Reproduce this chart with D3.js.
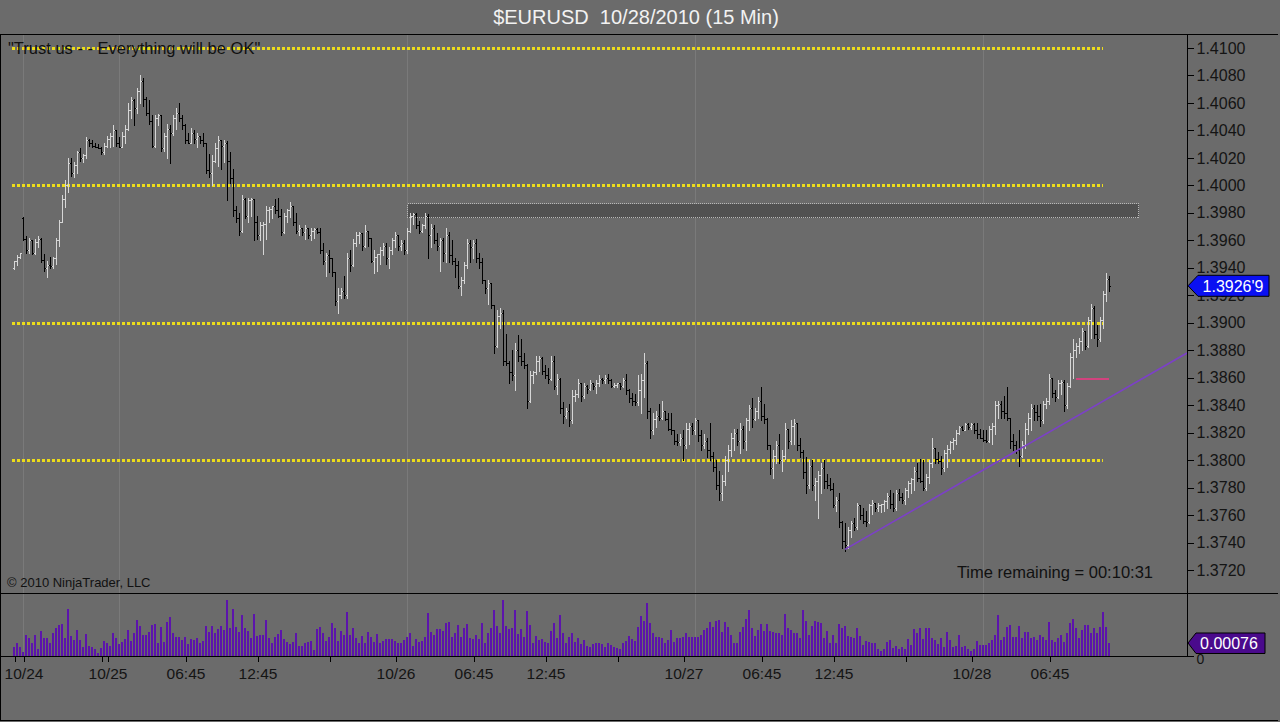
<!DOCTYPE html>
<html><head><meta charset="utf-8">
<script src="https://cdn.jsdelivr.net/npm/d3@7"></script>
<style>
html,body{margin:0;padding:0;background:#6b6b6b;}
svg{display:block;font-family:"Liberation Sans",Arial,sans-serif;}
text{white-space:pre;}
</style>
</head><body>
<svg id="chart" width="1280" height="722"></svg>
<script>
// ---------- DATA ----------
const opens=[1.3940,1.3945,1.3948,1.3976,1.3961,1.3953,1.3960,1.3951,1.3959,1.3961,
1.3946,1.3940,1.3942,1.3941,1.3947,1.3960,1.3973,1.3990,1.4000,1.4016,
1.4009,1.4015,1.4024,1.4020,1.4022,1.4033,1.4031,1.4029,1.4028,1.4027,
1.4024,1.4029,1.4034,1.4036,1.4040,1.4031,1.4028,1.4036,1.4041,1.4055,
1.4062,1.4056,1.4069,1.4076,1.4063,1.4053,1.4047,1.4029,1.4049,1.4051,
1.4027,1.4036,1.4041,1.4038,1.4049,1.4053,1.4049,1.4044,1.4033,1.4031,
1.4038,1.4034,1.4036,1.4033,1.4031,1.4011,1.4009,1.4018,1.4027,1.4033,
1.4029,1.4031,1.4018,1.4005,1.3982,1.3976,1.3967,1.3990,1.3978,1.3989,
1.3990,1.3973,1.3964,1.3971,1.3972,1.3982,1.3983,1.3985,1.3982,1.3978,
1.3966,1.3978,1.3982,1.3985,1.3973,1.3967,1.3969,1.3966,1.3969,1.3964,
1.3967,1.3968,1.3966,1.3953,1.3945,1.3949,1.3947,1.3937,1.3916,1.3920,
1.3923,1.3920,1.3947,1.3942,1.3958,1.3964,1.3965,1.3956,1.3967,1.3962,
1.3945,1.3948,1.3950,1.3953,1.3956,1.3947,1.3953,1.3960,1.3964,1.3956,
1.3958,1.3953,1.3967,1.3978,1.3979,1.3971,1.3967,1.3971,1.3978,1.3964,
1.3969,1.3960,1.3956,1.3960,1.3951,1.3964,1.3949,1.3945,1.3942,1.3927,
1.3931,1.3942,1.3958,1.3955,1.3958,1.3947,1.3944,1.3931,1.3925,1.3929,
1.3913,1.3883,1.3905,1.3907,1.3872,1.3871,1.3864,1.3862,1.3880,1.3876,
1.3872,1.3869,1.3843,1.3862,1.3864,1.3872,1.3874,1.3865,1.3862,1.3859,
1.3872,1.3854,1.3859,1.3838,1.3832,1.3836,1.3829,1.3847,1.3848,1.3856,
1.3847,1.3854,1.3852,1.3856,1.3854,1.3856,1.3859,1.3858,1.3860,1.3858,
1.3854,1.3855,1.3856,1.3854,1.3858,1.3851,1.3845,1.3843,1.3842,1.3851,
1.3858,1.3871,1.3836,1.3822,1.3830,1.3832,1.3831,1.3836,1.3830,1.3823,
1.3822,1.3814,1.3813,1.3816,1.3811,1.3823,1.3825,1.3822,1.3829,1.3818,
1.3811,1.3814,1.3807,1.3803,1.3795,1.3782,1.3776,1.3785,1.3800,1.3807,
1.3816,1.3820,1.3814,1.3823,1.3814,1.3829,1.3838,1.3830,1.3836,1.3843,
1.3832,1.3830,1.3811,1.3794,1.3803,1.3811,1.3800,1.3803,1.3823,1.3814,
1.3825,1.3827,1.3811,1.3806,1.3791,1.3782,1.3796,1.3782,1.3785,1.3789,
1.3794,1.3785,1.3782,1.3779,1.3767,1.3771,1.3755,1.3741,1.3738,1.3749,
1.3754,1.3751,1.3767,1.3760,1.3756,1.3755,1.3767,1.3769,1.3765,1.3767,
1.3768,1.3770,1.3774,1.3768,1.3765,1.3776,1.3773,1.3771,1.3778,1.3783,
1.3786,1.3792,1.3787,1.3785,1.3780,1.3788,1.3798,1.3809,1.3801,1.3799,
1.3794,1.3805,1.3808,1.3813,1.3815,1.3820,1.3824,1.3822,1.3826,1.3824,
1.3826,1.3822,1.3819,1.3816,1.3815,1.3814,1.3823,1.3825,1.3840,1.3841,
1.3836,1.3834,1.3831,1.3814,1.3811,1.3807,1.3803,1.3811,1.3823,1.3831,
1.3838,1.3835,1.3832,1.3829,1.3841,1.3843,1.3860,1.3849,1.3846,1.3856,
1.3857,1.3840,1.3854,1.3875,1.3880,1.3883,1.3887,1.3894,1.3883,1.3902,
1.3911,1.3892,1.3888,1.3902,1.3921,1.3932];

const highs=[1.3945,1.3949,1.3951,1.3977,1.3963,1.3962,1.3960,1.3961,1.3963,1.3962,
1.3950,1.3945,1.3948,1.3948,1.3962,1.3975,1.3993,1.4004,1.4020,1.4020,
1.4017,1.4025,1.4027,1.4023,1.4035,1.4034,1.4033,1.4031,1.4030,1.4028,
1.4031,1.4036,1.4038,1.4044,1.4040,1.4035,1.4039,1.4044,1.4060,1.4064,
1.4063,1.4071,1.4080,1.4078,1.4064,1.4062,1.4051,1.4051,1.4052,1.4051,
1.4038,1.4045,1.4044,1.4051,1.4056,1.4060,1.4051,1.4045,1.4038,1.4042,
1.4040,1.4038,1.4036,1.4038,1.4031,1.4023,1.4022,1.4031,1.4036,1.4033,
1.4033,1.4032,1.4024,1.4012,1.3985,1.3980,1.3993,1.3991,1.3991,1.3991,
1.3990,1.3978,1.3973,1.3973,1.3985,1.3984,1.3985,1.3990,1.3991,1.3983,
1.3980,1.3983,1.3988,1.3985,1.3980,1.3971,1.3969,1.3971,1.3969,1.3969,
1.3969,1.3969,1.3969,1.3958,1.3951,1.3953,1.3947,1.3937,1.3925,1.3925,
1.3934,1.3951,1.3953,1.3961,1.3966,1.3966,1.3965,1.3971,1.3967,1.3962,
1.3953,1.3950,1.3955,1.3958,1.3958,1.3955,1.3962,1.3966,1.3964,1.3960,
1.3960,1.3969,1.3980,1.3980,1.3980,1.3974,1.3972,1.3980,1.3979,1.3972,
1.3971,1.3965,1.3962,1.3962,1.3969,1.3966,1.3960,1.3947,1.3945,1.3933,
1.3944,1.3961,1.3960,1.3960,1.3961,1.3951,1.3947,1.3931,1.3931,1.3929,
1.3913,1.3909,1.3911,1.3909,1.3892,1.3872,1.3880,1.3885,1.3891,1.3888,
1.3878,1.3870,1.3865,1.3865,1.3876,1.3876,1.3875,1.3869,1.3867,1.3876,
1.3876,1.3863,1.3860,1.3842,1.3838,1.3841,1.3851,1.3851,1.3859,1.3856,
1.3856,1.3855,1.3858,1.3856,1.3858,1.3862,1.3860,1.3862,1.3863,1.3859,
1.3856,1.3856,1.3856,1.3860,1.3863,1.3852,1.3849,1.3848,1.3862,1.3863,
1.3878,1.3872,1.3838,1.3834,1.3836,1.3841,1.3843,1.3836,1.3834,1.3834,
1.3822,1.3819,1.3819,1.3822,1.3827,1.3827,1.3827,1.3831,1.3829,1.3822,
1.3819,1.3816,1.3827,1.3806,1.3800,1.3792,1.3789,1.3803,1.3811,1.3820,
1.3823,1.3823,1.3827,1.3825,1.3831,1.3840,1.3845,1.3838,1.3846,1.3853,
1.3841,1.3831,1.3811,1.3807,1.3814,1.3819,1.3807,1.3827,1.3823,1.3829,
1.3830,1.3827,1.3816,1.3807,1.3802,1.3800,1.3800,1.3787,1.3792,1.3798,
1.3800,1.3790,1.3787,1.3783,1.3773,1.3776,1.3756,1.3754,1.3751,1.3756,
1.3758,1.3769,1.3767,1.3765,1.3763,1.3768,1.3771,1.3769,1.3769,1.3768,
1.3771,1.3776,1.3778,1.3776,1.3778,1.3779,1.3776,1.3780,1.3785,1.3787,
1.3795,1.3798,1.3801,1.3800,1.3790,1.3800,1.3816,1.3809,1.3806,1.3803,
1.3807,1.3811,1.3814,1.3816,1.3822,1.3825,1.3825,1.3827,1.3827,1.3827,
1.3827,1.3827,1.3823,1.3822,1.3822,1.3825,1.3827,1.3843,1.3843,1.3843,
1.3847,1.3853,1.3831,1.3819,1.3814,1.3822,1.3814,1.3827,1.3834,1.3841,
1.3840,1.3840,1.3841,1.3843,1.3845,1.3863,1.3860,1.3851,1.3858,1.3858,
1.3858,1.3856,1.3878,1.3888,1.3885,1.3889,1.3896,1.3894,1.3904,1.3914,
1.3912,1.3898,1.3904,1.3923,1.3936,1.3934];

const lows=[1.3939,1.3942,1.3947,1.3960,1.3951,1.3951,1.3950,1.3950,1.3955,1.3944,
1.3938,1.3933,1.3940,1.3940,1.3943,1.3956,1.3973,1.3984,1.3995,1.4007,
1.4006,1.4009,1.4018,1.4017,1.4020,1.4029,1.4028,1.4028,1.4027,1.4023,
1.4023,1.4028,1.4028,1.4029,1.4029,1.4028,1.4028,1.4031,1.4040,1.4049,
1.4044,1.4053,1.4060,1.4058,1.4051,1.4045,1.4028,1.4028,1.4044,1.4025,
1.4025,1.4020,1.4016,1.4037,1.4041,1.4047,1.4041,1.4031,1.4031,1.4031,
1.4031,1.4028,1.4031,1.4029,1.4009,1.4006,1.4000,1.4017,1.4014,1.4012,
1.4017,1.3989,1.4002,1.3978,1.3973,1.3964,1.3966,1.3976,1.3973,1.3978,
1.3960,1.3961,1.3960,1.3950,1.3961,1.3973,1.3976,1.3980,1.3977,1.3964,
1.3965,1.3973,1.3977,1.3971,1.3965,1.3964,1.3964,1.3961,1.3962,1.3960,
1.3962,1.3965,1.3951,1.3943,1.3934,1.3937,1.3934,1.3913,1.3907,1.3918,
1.3918,1.3918,1.3938,1.3941,1.3956,1.3958,1.3953,1.3955,1.3956,1.3944,
1.3936,1.3938,1.3943,1.3949,1.3943,1.3940,1.3950,1.3955,1.3953,1.3953,
1.3950,1.3951,1.3966,1.3972,1.3969,1.3965,1.3966,1.3969,1.3947,1.3955,
1.3958,1.3953,1.3938,1.3945,1.3944,1.3944,1.3943,1.3933,1.3925,1.3920,
1.3929,1.3940,1.3944,1.3947,1.3944,1.3940,1.3929,1.3922,1.3914,1.3911,
1.3878,1.3882,1.3896,1.3869,1.3869,1.3856,1.3858,1.3851,1.3872,1.3869,
1.3867,1.3838,1.3842,1.3856,1.3863,1.3865,1.3863,1.3860,1.3856,1.3858,
1.3852,1.3848,1.3834,1.3827,1.3831,1.3825,1.3827,1.3843,1.3846,1.3843,
1.3845,1.3849,1.3851,1.3852,1.3849,1.3854,1.3856,1.3856,1.3856,1.3853,
1.3853,1.3853,1.3852,1.3853,1.3848,1.3842,1.3840,1.3840,1.3840,1.3834,
1.3846,1.3831,1.3816,1.3819,1.3824,1.3829,1.3830,1.3829,1.3822,1.3819,
1.3812,1.3811,1.3811,1.3800,1.3809,1.3812,1.3819,1.3819,1.3814,1.3807,
1.3809,1.3802,1.3800,1.3792,1.3779,1.3771,1.3771,1.3782,1.3792,1.3803,
1.3807,1.3811,1.3805,1.3809,1.3807,1.3822,1.3824,1.3829,1.3831,1.3829,
1.3827,1.3808,1.3790,1.3787,1.3798,1.3798,1.3792,1.3801,1.3809,1.3812,
1.3812,1.3807,1.3802,1.3787,1.3776,1.3780,1.3778,1.3771,1.3758,1.3776,
1.3780,1.3780,1.3778,1.3766,1.3763,1.3751,1.3736,1.3734,1.3736,1.3744,
1.3749,1.3750,1.3757,1.3754,1.3752,1.3754,1.3761,1.3763,1.3763,1.3762,
1.3763,1.3765,1.3765,1.3763,1.3764,1.3771,1.3769,1.3768,1.3773,1.3776,
1.3778,1.3785,1.3784,1.3778,1.3778,1.3783,1.3795,1.3798,1.3798,1.3790,
1.3792,1.3795,1.3805,1.3808,1.3812,1.3819,1.3822,1.3822,1.3823,1.3823,
1.3820,1.3816,1.3816,1.3814,1.3813,1.3813,1.3812,1.3819,1.3831,1.3831,
1.3831,1.3829,1.3809,1.3807,1.3805,1.3796,1.3802,1.3809,1.3819,1.3822,
1.3829,1.3829,1.3825,1.3827,1.3838,1.3841,1.3846,1.3843,1.3845,1.3848,
1.3836,1.3838,1.3853,1.3860,1.3875,1.3878,1.3880,1.3881,1.3882,1.3889,
1.3889,1.3883,1.3887,1.3896,1.3916,1.3923];

const closes=[1.3945,1.3948,1.3951,1.3961,1.3953,1.3960,1.3951,1.3959,1.3961,1.3946,
1.3940,1.3942,1.3941,1.3947,1.3960,1.3973,1.3990,1.4000,1.4016,1.4009,
1.4015,1.4024,1.4020,1.4022,1.4033,1.4031,1.4029,1.4028,1.4027,1.4024,
1.4029,1.4034,1.4036,1.4040,1.4031,1.4028,1.4036,1.4041,1.4055,1.4062,
1.4056,1.4069,1.4076,1.4063,1.4053,1.4047,1.4029,1.4049,1.4051,1.4027,
1.4036,1.4041,1.4038,1.4049,1.4053,1.4049,1.4044,1.4033,1.4031,1.4038,
1.4034,1.4036,1.4033,1.4031,1.4011,1.4009,1.4018,1.4027,1.4033,1.4029,
1.4031,1.4018,1.4005,1.3982,1.3976,1.3967,1.3990,1.3978,1.3989,1.3990,
1.3973,1.3964,1.3971,1.3972,1.3982,1.3983,1.3985,1.3982,1.3978,1.3966,
1.3978,1.3982,1.3985,1.3973,1.3967,1.3969,1.3966,1.3969,1.3964,1.3967,
1.3968,1.3966,1.3953,1.3945,1.3949,1.3947,1.3937,1.3916,1.3920,1.3923,
1.3920,1.3947,1.3942,1.3958,1.3964,1.3965,1.3956,1.3967,1.3962,1.3945,
1.3948,1.3950,1.3953,1.3956,1.3947,1.3953,1.3960,1.3964,1.3956,1.3958,
1.3953,1.3967,1.3978,1.3979,1.3971,1.3967,1.3971,1.3978,1.3964,1.3969,
1.3960,1.3956,1.3960,1.3951,1.3964,1.3949,1.3945,1.3942,1.3927,1.3931,
1.3942,1.3958,1.3955,1.3958,1.3947,1.3944,1.3931,1.3925,1.3929,1.3913,
1.3883,1.3905,1.3907,1.3872,1.3871,1.3864,1.3862,1.3880,1.3876,1.3872,
1.3869,1.3843,1.3862,1.3864,1.3872,1.3874,1.3865,1.3862,1.3859,1.3872,
1.3854,1.3859,1.3838,1.3832,1.3836,1.3829,1.3847,1.3848,1.3856,1.3847,
1.3854,1.3852,1.3856,1.3854,1.3856,1.3859,1.3858,1.3860,1.3858,1.3854,
1.3855,1.3856,1.3854,1.3858,1.3851,1.3845,1.3843,1.3842,1.3851,1.3858,
1.3871,1.3836,1.3822,1.3830,1.3832,1.3831,1.3836,1.3830,1.3823,1.3822,
1.3814,1.3813,1.3816,1.3811,1.3823,1.3825,1.3822,1.3829,1.3818,1.3811,
1.3814,1.3807,1.3803,1.3795,1.3782,1.3776,1.3785,1.3800,1.3807,1.3816,
1.3820,1.3814,1.3823,1.3814,1.3829,1.3838,1.3830,1.3836,1.3843,1.3832,
1.3830,1.3811,1.3794,1.3803,1.3811,1.3800,1.3803,1.3823,1.3814,1.3825,
1.3827,1.3811,1.3806,1.3791,1.3782,1.3796,1.3782,1.3785,1.3789,1.3794,
1.3785,1.3782,1.3779,1.3767,1.3771,1.3755,1.3741,1.3738,1.3749,1.3754,
1.3751,1.3767,1.3760,1.3756,1.3755,1.3767,1.3769,1.3765,1.3767,1.3768,
1.3770,1.3774,1.3768,1.3765,1.3776,1.3773,1.3771,1.3778,1.3783,1.3786,
1.3792,1.3787,1.3785,1.3780,1.3788,1.3798,1.3809,1.3801,1.3799,1.3794,
1.3805,1.3808,1.3813,1.3815,1.3820,1.3824,1.3822,1.3826,1.3824,1.3826,
1.3822,1.3819,1.3816,1.3815,1.3814,1.3823,1.3825,1.3840,1.3841,1.3836,
1.3834,1.3831,1.3814,1.3811,1.3807,1.3803,1.3811,1.3823,1.3831,1.3838,
1.3835,1.3832,1.3829,1.3841,1.3843,1.3860,1.3849,1.3846,1.3856,1.3857,
1.3840,1.3854,1.3875,1.3880,1.3883,1.3887,1.3894,1.3883,1.3902,1.3911,
1.3892,1.3888,1.3902,1.3921,1.3932,1.39269];

// lower panel indicator, in points (1 point = 0.00001)
const rangePoints=[51,74,51,25,123,103,74,123,39,148,
103,103,74,133,162,181,187,103,273,117,
94,152,94,51,129,59,51,39,20,45,
88,74,59,133,103,70,84,98,152,88,
133,211,176,123,123,142,181,187,78,172,
84,199,226,137,113,109,94,109,70,98,
94,103,78,88,177,142,176,137,156,176,
152,328,162,273,172,142,240,162,146,107,
246,117,121,121,211,103,78,109,129,152,
98,84,68,84,137,59,59,74,84,88,
35,156,172,133,90,113,195,162,90,148,
123,259,123,162,103,74,117,78,142,109,
82,129,74,90,101,99,98,86,78,
74,94,113,133,59,98,84,90,113,254,
142,123,156,156,148,191,197,109,133,181,
113,162,187,103,98,123,98,195,74,137,
162,269,176,133,328,176,156,162,269,127,
156,113,263,181,74,117,94,99,80,74,
148,195,107,240,133,78,113,133,84,107,
68,94,59,55,70,78,78,68,51,78,
64,51,45,41,74,90,119,98,90,172,
234,207,312,191,137,109,109,103,74,94,
152,84,103,103,113,137,113,109,113,113,
123,152,162,197,172,207,211,142,201,172,
123,78,74,142,168,215,269,162,117,152,
185,148,185,148,142,137,133,
123,
246,162,152,137,137,103,269,207,123,176,
207,201,195,103,148,78,123,78,187,162,
176,117,113,103,162,117,64,90,84,78,
74,39,31,39,84,94,45,59,39,55,
39,98,64,156,137,162,98,166,162,103,
94,70,103,55,142,94,55,59,123,55,
59,39,31,39,90,64,64,64,74,94,
123,240,94,113,168,181,113,113,176,103,
142,142,103,109,94,123,113,94,201,94,
84,103,123,84,133,191,215,162,103,152,
181,181,133,162,133,172,259,172,76];

const priceTicks=[1.3720,1.3740,1.3760,1.3780,1.3800,1.3820,1.3840,1.3860,1.3880,1.3900,
1.3920,1.3940,1.3960,1.3980,1.4000,1.4020,1.4040,1.4060,1.4080,1.4100];
const timeTickIndex=[0,3,29,31,57,81,105,127,153,177,201,223,249,273,297,319,345];
const timeTickLabels=["","10/24","","10/25","06:45","12:45","","10/26","06:45","12:45","","10/27","06:45","12:45","","10/28","06:45"];
const sessionGridIndex=[3,35,131,227,323];
const levelPrices=[1.4100,1.4000,1.3900,1.3800];
const levelSpan=[-0.7,363];
const zonePrices=[1.3977,1.3987];
const zoneSpan=[131,374.7];
const trendIndex=[277,336];
const trendPrices=[1.3735,1.3809];
const markIndex=[354,365];
const markPrice=1.3859;
const title="$EURUSD\u00A0\u00A010/28/2010 (15 Min)";
const note="\"Trust us - - Everything will be OK\"";
const copyright="\u00A9 2010 NinjaTrader, LLC";
const timer="Time remaining = 00:10:31";
const lastPriceLabel="1.3926'9";

// ---------- LAYOUT ----------
const BG="#6b6b6b";
const axisX=1187, panelTop=34, divider=593, volBottom=656, frameBottom=720, frameRight=1278;
const svg=d3.select("#chart");
svg.append("rect").attr("width",1280).attr("height",722).attr("fill",BG);

const n=closes.length;
const x=d3.scaleLinear().domain([0,n-1]).range([14,1109]);
const y=d3.scaleLinear().domain([1.372,1.41]).range([570,48]);
const yv=d3.scaleLinear().domain([0,368]).range([volBottom,divider]);

const defs=svg.append("defs");
defs.append("clipPath").attr("id","mainClip").append("rect")
  .attr("x",1).attr("y",panelTop+1).attr("width",axisX-1).attr("height",divider-panelTop-1);
defs.append("clipPath").attr("id","volClip").append("rect")
  .attr("x",1).attr("y",divider+1).attr("width",axisX-1).attr("height",volBottom-divider-1);

// session grid lines
svg.append("g").selectAll("line").data(sessionGridIndex).join("line")
  .attr("x1",d=>Math.round(x(d))+0.5).attr("x2",d=>Math.round(x(d))+0.5)
  .attr("y1",panelTop+1).attr("y2",volBottom)
  .attr("stroke","#7a7a7a").attr("stroke-width",1).attr("shape-rendering","crispEdges");

const main=svg.append("g").attr("clip-path","url(#mainClip)");

// zone rectangle
main.append("rect")
  .attr("x",Math.round(x(zoneSpan[0]))+0.5)
  .attr("y",Math.round(y(zonePrices[1]))+0.5)
  .attr("width",Math.round(x(zoneSpan[1])-x(zoneSpan[0])))
  .attr("height",Math.round(y(zonePrices[0])-y(zonePrices[1])))
  .attr("fill","#515151").attr("stroke","#b8b8b8").attr("stroke-width",1)
  .attr("stroke-dasharray","1,1").attr("shape-rendering","crispEdges");

// yellow dotted levels
main.append("g").selectAll("line").data(levelPrices).join("line")
  .attr("x1",x(levelSpan[0])).attr("x2",x(levelSpan[1]))
  .attr("y1",d=>Math.round(y(d))).attr("y2",d=>Math.round(y(d)))
  .attr("stroke","#ecdc1a").attr("stroke-width",3).attr("stroke-dasharray","3,2")
  .attr("shape-rendering","crispEdges");

// OHLC bars
const bars=main.append("g").attr("shape-rendering","crispEdges").attr("fill","none");
d3.range(n).forEach(i=>{
  const cx=Math.round(x(i))+0.5;
  const up=closes[i]>=opens[i];
  const col=up?"#d6d6d6":"#000000";
  const yh=Math.round(y(highs[i])), yl=Math.round(y(lows[i]));
  const yo=Math.round(y(opens[i]))+0.5, yc=Math.round(y(closes[i]))+0.5;
  bars.append("path")
    .attr("d",`M${cx},${yh}V${Math.max(yl,yh+1)+1}M${cx-1.5},${yo}H${cx}M${cx},${yc}H${cx+1.5}`)
    .attr("stroke",col).attr("stroke-width",1);
});

// trend line
const slope=(trendPrices[1]-trendPrices[0])/(trendIndex[1]-trendIndex[0]);
const endIdx=x.invert(axisX);
main.append("line")
  .attr("x1",x(trendIndex[0])).attr("y1",y(trendPrices[0]))
  .attr("x2",x(endIdx)).attr("y2",y(trendPrices[0]+slope*(endIdx-trendIndex[0])))
  .attr("stroke","#7c40c8").attr("stroke-width",1.6);

// pink mark
main.append("line")
  .attr("x1",x(markIndex[0])).attr("x2",x(markIndex[1]))
  .attr("y1",Math.round(y(markPrice))).attr("y2",Math.round(y(markPrice)))
  .attr("stroke","#d2437e").attr("stroke-width",2).attr("shape-rendering","crispEdges");

// lower panel bars
svg.append("g").attr("clip-path","url(#volClip)").selectAll("rect").data(rangePoints).join("rect")
  .attr("x",(d,i)=>Math.round(x(i))-1).attr("width",2)
  .attr("y",d=>Math.round(yv(d))).attr("height",d=>volBottom-Math.round(yv(d)))
  .attr("fill","#5c14ac").attr("shape-rendering","crispEdges");

// frame
const fr=svg.append("g").attr("stroke","#000").attr("stroke-width",1).attr("shape-rendering","crispEdges");
fr.append("line").attr("x1",0).attr("x2",frameRight).attr("y1",panelTop+0.5).attr("y2",panelTop+0.5);
fr.append("line").attr("x1",0).attr("x2",frameRight).attr("y1",divider+0.5).attr("y2",divider+0.5);
fr.append("line").attr("x1",0).attr("x2",axisX+6).attr("y1",volBottom+0.5).attr("y2",volBottom+0.5);
fr.append("line").attr("x1",0).attr("x2",frameRight).attr("y1",frameBottom+0.5).attr("y2",frameBottom+0.5);
fr.append("line").attr("x1",0.5).attr("x2",0.5).attr("y1",panelTop).attr("y2",frameBottom);
fr.append("line").attr("x1",axisX+0.5).attr("x2",axisX+0.5).attr("y1",panelTop).attr("y2",volBottom);

// price axis
const yAxis=svg.append("g").attr("transform",`translate(${axisX+0.5},0)`)
  .call(d3.axisRight(y).tickValues(priceTicks).tickSize(6).tickPadding(3).tickFormat(d=>d.toFixed(4)));
yAxis.select(".domain").remove();
yAxis.selectAll("line").attr("stroke","#000").attr("shape-rendering","crispEdges");
yAxis.selectAll("text").attr("fill","#141414").style("font-size","16px")
  .style("font-family","'Liberation Sans',Arial,sans-serif");

// lower panel axis zero (partly covered by the value marker, as in the original)
const vAxis=svg.append("g").attr("transform",`translate(${axisX+0.5},0)`)
  .call(d3.axisRight(yv).tickValues([0]).tickSize(6).tickPadding(3).tickFormat(d3.format("d")));
vAxis.select(".domain").remove();
vAxis.selectAll("line").attr("stroke","#000").attr("shape-rendering","crispEdges");
vAxis.selectAll("text").attr("fill","#141414").attr("dy","0.55em").style("font-size","14px")
  .style("font-family","'Liberation Sans',Arial,sans-serif");

// time axis
const xAxis=svg.append("g").attr("transform",`translate(0.5,${volBottom+0.5})`)
  .call(d3.axisBottom(x).tickValues(timeTickIndex).tickSize(5).tickPadding(6)
    .tickFormat((d,i)=>timeTickLabels[i]));
xAxis.select(".domain").remove();
xAxis.selectAll("line").attr("stroke","#000").attr("shape-rendering","crispEdges");
xAxis.selectAll("text").attr("fill","#141414").style("font-size","15.5px")
  .style("font-family","'Liberation Sans',Arial,sans-serif");

// last price marker
const lp=closes[n-1], ly=y(lp);
svg.append("path")
  .attr("d",`M${axisX+1},${ly}L${axisX+11},${ly-10.5}H1269V${ly+10.5}H${axisX+11}Z`)
  .attr("fill","#0a10f2").attr("stroke","#000").attr("stroke-width",1);
svg.append("text").attr("x",1233).attr("y",ly).attr("dy","0.36em").attr("text-anchor","middle")
  .attr("fill","#ffffff").style("font-size","16px").text(lastPriceLabel);

// last indicator marker
const lv=rangePoints[n-1], vy=yv(lv);
svg.append("path")
  .attr("d",`M${axisX+1},${vy}L${axisX+9},${vy-10}H1265V${vy+10.5}H${axisX+9}Z`)
  .attr("fill","#4a0a8c").attr("stroke","#000").attr("stroke-width",1);
svg.append("text").attr("x",1229).attr("y",vy).attr("dy","0.36em").attr("text-anchor","middle")
  .attr("fill","#ffffff").style("font-size","16px").text((lv/100000).toFixed(5));

// texts
svg.append("text").attr("x",636).attr("y",24).attr("text-anchor","middle")
  .attr("fill","#f2f2f2").style("font-size","20px").text(title);
svg.append("text").attr("x",8).attr("y",54).attr("fill","#111")
  .style("font-size","16.5px").text(note);
svg.append("text").attr("x",7).attr("y",587).attr("fill","#111")
  .style("font-size","13px").text(copyright);
svg.append("text").attr("x",1153).attr("y",578).attr("text-anchor","end").attr("fill","#111")
  .style("font-size","16.5px").text(timer);
</script>
</body></html>
